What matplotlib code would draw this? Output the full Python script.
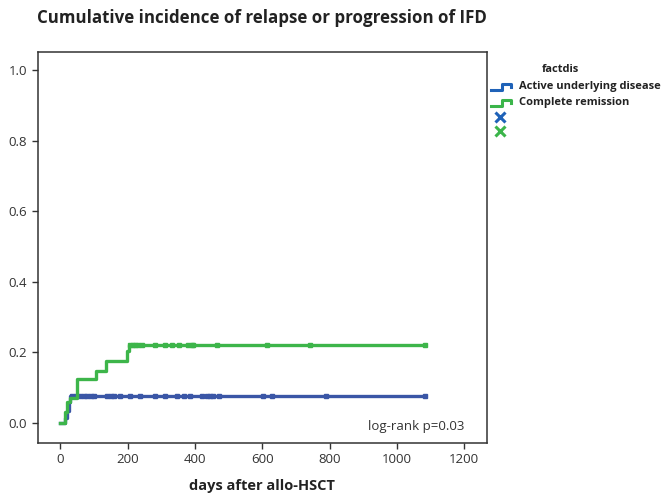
import matplotlib
matplotlib.use("Agg")
import matplotlib.pyplot as plt
from matplotlib.lines import Line2D

# ---- data ----
blue_t = [0, 15, 20, 25, 30, 1085]
blue_y = [0.0, 0.015, 0.035, 0.06, 0.075, 0.075]
blue_cens = [35, 45, 59, 70, 79, 90, 99, 139, 150, 158, 178, 208, 238, 282, 312, 347, 366, 386,
             421, 436, 445, 455, 470, 603, 630, 790, 1085]

green_t = [0, 15, 20, 28, 48, 105, 135, 198, 205, 1085]
green_y = [0.0, 0.03, 0.06, 0.07, 0.125, 0.148, 0.174, 0.205, 0.221, 0.221]
green_cens = [208, 215, 222, 230, 243, 282, 312, 333, 352, 380, 390, 395, 465, 614, 742, 1085]

xticks = [0, 200, 400, 600, 800, 1000, 1200]
yticks = [0.0, 0.2, 0.4, 0.6, 0.8, 1.0]

BLUE = "#3a56a6"
GREEN = "#3db54a"
LBLUE = "#1f62b8"
LGREEN = "#3bb54a"

plt.rcParams['font.family'] = ['Open Sans', 'DejaVu Sans']

fig = plt.figure(figsize=(6.62, 4.93), dpi=100)
W, H = 662, 493
ax = fig.add_axes([37.5 / W, 1 - 443 / H, (487 - 37.5) / W, (443 - 52) / H])

def step_val(ts, ys, t):
    v = ys[0]
    for tt, yy in zip(ts, ys):
        if tt <= t:
            v = yy
    return v

ax.step(blue_t, blue_y, where='post', color=BLUE, lw=2.4, zorder=3)
ax.step(green_t, green_y, where='post', color=GREEN, lw=2.4, zorder=4)
ax.plot(blue_cens, [step_val(blue_t, blue_y, t) for t in blue_cens], ls='none', marker='s',
        ms=2.8, color=BLUE, zorder=3)
ax.plot(green_cens, [step_val(green_t, green_y, t) for t in green_cens], ls='none', marker='s',
        ms=2.8, color=GREEN, zorder=4)

ax.set_xlim(-68, 1268)
ax.set_ylim(-0.057, 1.051)
ax.set_xticks(xticks)
ax.set_xticklabels([str(v) for v in xticks])
ax.set_yticks(yticks)
ax.set_yticklabels([f"{v:.1f}" for v in yticks])
ax.tick_params(labelsize=9.5, colors="#333333", length=4, width=1, labelcolor="#333333")
for s in ax.spines.values():
    s.set_color("#333333")
    s.set_linewidth(1.1)

ax.text(1200, -0.011, "log-rank p=0.03", ha='right', va='center', fontsize=9.5, color="#333333")

ax.set_xlabel("days after allo-HSCT", fontsize=10.5, fontweight='bold', color="#222222", labelpad=9)
fig.text(37 / W, 1 - 18 / H, "Cumulative incidence of relapse or progression of IFD", fontsize=12.2,
         fontweight='bold', color="#222222", ha='left', va='center')

# ---- legend (outside right) ----
def fx(x):
    return x / W

def fy(y):
    return 1 - y / H

fig.text(fx(560), fy(69), "factdis", fontsize=8, fontweight='bold', ha='center', va='center',
         color="#222222")
labels = ["Active underlying disease", "Complete remission"]
cols = [LBLUE, LGREEN]
for i, (lab, c) in enumerate(zip(labels, cols)):
    yc = 87 + i * 16
    xs = [491, 502, 502, 511, 511]
    ys = [yc + 3, yc + 3, yc - 3, yc - 3, yc]
    fig.add_artist(Line2D([fx(v) for v in xs], [fy(v) for v in ys], color=c, lw=2.2,
                          transform=fig.transFigure))
    fig.text(fx(519), fy(yc), lab, fontsize=8, fontweight='bold', ha='left', va='center',
             color="#222222")
for i, c in enumerate(cols):
    fig.add_artist(Line2D([fx(500)], [fy(117 + i * 14)], marker='x', ms=7, mew=2.2, color=c,
                          ls='none', transform=fig.transFigure))

fig.savefig("out.png", dpi=100)
